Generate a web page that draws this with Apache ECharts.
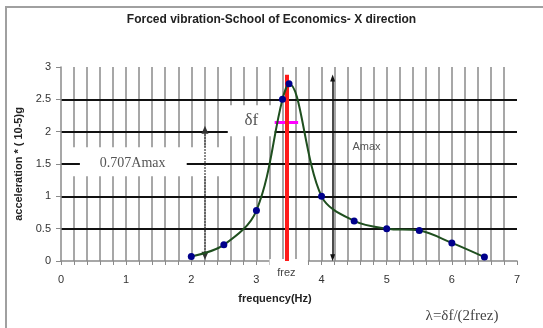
<!DOCTYPE html>
<html><head><meta charset="utf-8">
<script src="https://cdn.jsdelivr.net/npm/echarts@6/dist/echarts.min.js"></script>
<style>html,body{margin:0;padding:0;background:#fff}#c{width:543px;height:328px}</style>
</head><body><div id="c"></div>
<script>
// ---- data ----
const titleText = 'Forced vibration-School of Economics- X direction';
const xName = 'frequency(Hz)';
const yName = 'acceleration * ( 10-5)g';
const frequency = [2, 2.5, 3, 3.4, 3.5, 4, 4.5, 5, 5.5, 6, 6.5];
const acceleration = [0.07, 0.25, 0.78, 2.5, 2.74, 1.0, 0.62, 0.5, 0.47, 0.28, 0.06];
const xRange = [0, 7];
const yRange = [0, 3];
const frez = 3.46;
const frezSpan = [0, 2.88];
const halfPowerLevel = 2.14;
const halfBand = [3.28, 3.64];
const amaxArrowX = 4.17, amaxArrowSpan = [0.05, 2.83];
const levelArrowX = 2.21, levelArrowSpan = [0.08, 2.03];
const annotationTexts = { level: '0.707Amax', band: 'δf', amax: 'Amax', frez: 'frez', formula: 'λ=δf/(2frez)' };

const chart = echarts.init(document.getElementById('c'), null, {renderer: 'canvas'});
const sans = 'Liberation Sans, Arial, sans-serif';
const serif = 'Liberation Serif, Times New Roman, serif';

const option = {
  animation: false,
  title: { text: titleText, left: 'center', top: 9,
    textStyle: { fontFamily: sans, fontSize: 12, fontWeight: 'bold', color: '#222' } },
  grid: { left: 61, right: 26, top: 67, bottom: 67 },
  xAxis: {
    type: 'value', min: xRange[0], max: xRange[1], interval: 0.2, z: 0,
    name: xName, nameLocation: 'middle', nameGap: 32,
    nameTextStyle: { fontFamily: sans, fontSize: 11, fontWeight: 'bold', color: '#222', padding: [0, 28, 0, 0] },
    axisLine: { lineStyle: { color: '#8a8a8a', width: 1.5 } },
    axisTick: { length: 4, lineStyle: { color: '#8a8a8a' } },
    axisLabel: { fontFamily: sans, fontSize: 11, color: '#333', margin: 13,
      formatter: v => Math.abs(v - Math.round(v)) < 1e-6 ? String(Math.round(v)) : '' },
    splitLine: { show: true, showMinLine: false, showMaxLine: false, lineStyle: { color: '#8a8a8a', width: 1.5 } }
  },
  yAxis: {
    type: 'value', min: yRange[0], max: yRange[1], interval: 0.5, z: 2,
    name: yName, nameLocation: 'middle', nameRotate: 90, nameGap: 37,
    nameTextStyle: { fontFamily: sans, fontSize: 11, fontWeight: 'bold', color: '#222' },
    axisLine: { show: true, lineStyle: { color: '#8a8a8a', width: 1.5 } },
    axisTick: { show: true, length: 5, lineStyle: { color: '#8a8a8a' } },
    axisLabel: { fontFamily: sans, fontSize: 11, color: '#333', margin: 10 },
    splitLine: { show: true, showMinLine: false, showMaxLine: false, lineStyle: { color: '#111', width: 2 } }
  },
  series: [{
    type: 'line', z: 5, smooth: 0.35,
    data: frequency.map((f, i) => [f, acceleration[i]]),
    symbol: 'circle', symbolSize: 7,
    itemStyle: { color: '#00008b' },
    lineStyle: { color: '#1f4f1f', width: 2 },
    silent: true,
    markLine: {
      silent: true, animation: false, label: { show: false }, symbol: ['none', 'none'],
      data: [
        [{ coord: [halfBand[0], halfPowerLevel], lineStyle: { color: '#ff00ff', width: 3, type: 'solid' } }, { coord: [halfBand[1], halfPowerLevel] }],
        [{ coord: [frez, frezSpan[0]], lineStyle: { color: '#ff1a1a', width: 4, type: 'solid' } }, { coord: [frez, frezSpan[1]] }],
        [{ coord: [amaxArrowX, amaxArrowSpan[0]], symbol: 'triangle', symbolSize: [5, 7], lineStyle: { color: '#111', width: 1.5, type: 'solid' } },
         { coord: [amaxArrowX, amaxArrowSpan[1]], symbol: 'triangle', symbolSize: [5, 7] }],
        [{ coord: [levelArrowX, levelArrowSpan[0]], symbol: 'triangle', symbolSize: [7, 8], lineStyle: { color: '#333', width: 1.5, type: 'dotted' } },
         { coord: [levelArrowX, levelArrowSpan[1]], symbol: 'triangle', symbolSize: [7, 8] }]
      ]
    }
  }]
};
chart.setOption(option);

function px(p) { return chart.convertToPixel({ gridIndex: 0 }, p); }
function rectFrom(a, b, z) {
  const p1 = px(a), p2 = px(b);
  return { type: 'rect', z: z, silent: true,
    shape: { x: Math.min(p1[0], p2[0]), y: Math.min(p1[1], p2[1]), width: Math.abs(p2[0] - p1[0]), height: Math.abs(p2[1] - p1[1]) },
    style: { fill: '#fff' } };
}
function textAt(p, text, font, size, color, z) {
  const q = px(p);
  return { type: 'text', z: z, silent: true, x: q[0], y: q[1],
    style: { text: text, fontFamily: font, fontSize: size, fill: color, align: 'center', verticalAlign: 'middle' } };
}
const axisY = px([0, 0])[1];
const frezPx = px([frez, 0])[0];
const graphics = [
  { type: 'rect', z: 0, silent: true, shape: { x: 6, y: 7, width: 560, height: 340 }, style: { fill: 'none', stroke: '#a0a0a0', lineWidth: 2 } },
  rectFrom([0.03, 1.31], [2.57, 1.76], 1),
  rectFrom([0.29, 1.40], [1.93, 1.62], 3),
  rectFrom([2.56, 1.93], [3.28, 2.41], 3),
  { type: 'rect', z: 3, silent: true, shape: { x: px([3.2, 0])[0], y: axisY - 2, width: px([3.79, 0])[0] - px([3.2, 0])[0], height: 24 }, style: { fill: '#fff' } },
  textAt([1.1, 1.51], annotationTexts.level, serif, 14, '#555', 6),
  textAt([2.92, 2.17], annotationTexts.band, serif, 17, '#555', 6),
  textAt([4.69, 1.76], annotationTexts.amax, sans, 11, '#555', 6),
  { type: 'text', z: 6, silent: true, x: frezPx, y: axisY + 12,
    style: { text: annotationTexts.frez, fontFamily: sans, fontSize: 11, fill: '#444', align: 'center', verticalAlign: 'middle' } },
  { type: 'text', z: 6, silent: true, x: 462, y: 316,
    style: { text: annotationTexts.formula, fontFamily: serif, fontSize: 15, fill: '#444', align: 'center', verticalAlign: 'middle' } }
];
chart.setOption({ graphic: graphics });
</script></body></html>
